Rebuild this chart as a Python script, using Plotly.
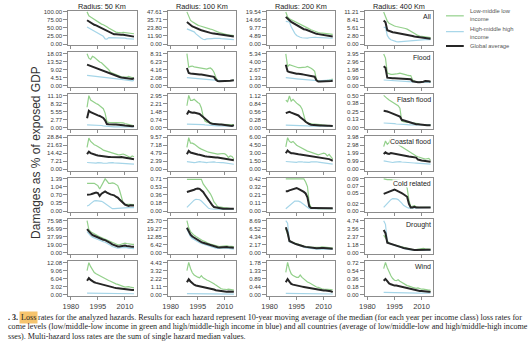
import plotly.graph_objects as go

# ---------------- data ----------------
years = list(range(1989, 2016))
radius_titles = ["Radius: 50 Km", "Radius: 100 Km", "Radius: 200 Km", "Radius: 400 Km"]
hazards = ["All", "Flood", "Flash flood", "Coastal flood", "Cold related", "Drought", "Wind"]
series_names = ["Low-middle low<br>income", "High-middle high<br>income", "Global average"]

# y tick labels (one list per radius)
yticks_all = [["0.00", "25.00", "50.00", "75.00", "100.00"], ["0.00", "11.90", "23.80", "35.71", "47.61"],
              ["0.00", "4.89", "9.77", "14.66", "19.54"], ["0.00", "2.80", "5.61", "8.41", "11.21"]]
yticks_flood = [["0.00", "4.51", "9.02", "13.52", "18.03"], ["0.00", "2.08", "4.16", "6.23", "8.31"],
                ["0.00", "1.33", "2.67", "4.00", "5.34"], ["0.00", "0.99", "1.98", "2.96", "3.95"]]
yticks_flash = [["0.00", "2.77", "5.55", "8.32", "11.10"], ["0.00", "0.74", "1.48", "2.21", "2.95"],
                ["0.00", "0.28", "0.56", "0.84", "1.12"], ["0.00", "0.13", "0.25", "0.38", "0.50"]]
yticks_coastal = [["0.00", "7.21", "14.42", "21.63", "28.84"], ["0.00", "2.39", "4.79", "7.18", "9.57"],
                  ["0.00", "1.50", "3.00", "4.50", "6.00"], ["0.00", "0.99", "1.99", "2.98", "3.98"]]
yticks_cold = [["0.00", "0.35", "0.70", "1.04", "1.39"], ["0.00", "0.18", "0.36", "0.53", "0.71"],
               ["0.00", "0.11", "0.21", "0.32", "0.42"], ["0.00", "0.02", "0.05", "0.07", "0.09"]]
yticks_drought = [["0.00", "19.00", "37.99", "56.99", "75.98"], ["0.00", "6.42", "12.85", "19.27", "25.70"],
                  ["0.00", "2.17", "4.34", "6.52", "8.69"], ["0.00", "1.18", "2.37", "3.56", "4.74"]]
yticks_wind = [["0.00", "3.02", "6.04", "9.06", "12.08"], ["0.00", "1.11", "2.22", "3.32", "4.43"],
               ["0.00", "0.44", "0.89", "1.33", "1.78"], ["0.00", "0.18", "0.36", "0.54", "0.72"]]

# ---- All ----
all_50_low = [100, 88, 84, 80, 76, 72, 68, 65, 62, 60, 58, 54, 50, 47, 43, 39, 37, 36, 35, 35, 36, 35, 34, 34, 33, 33, 32]
all_50_high = [53, 50, 46, 42, 40, 38, 35, 32, 29, 24, 16, 15, 20, 20, 19, 19, 19, 19, 19, 18, 18, 18, 17, 17, 16, 16, 15]
all_50_glob = [74, 70, 66, 63, 60, 58, 55, 52, 50, 48, 45, 41, 38, 34, 32, 30, 30, 29, 29, 29, 29, 28, 27, 26, 25, 24, 23]
all_100_low = [47.6, 42, 35, 33, 31, 29.5, 28, 27, 26, 25, 24, 23, 22.5, 22, 21.5, 20, 19, 18, 17, 16, 15.5, 15, 14, 13.5, 13, 12.8, 12.5]
all_100_high = [22.5, 21.5, 21, 20, 18, 15, 12.5, 10.5, 8.5, 7, 6.5, 7.5, 8, 8, 8, 8.2, 8.5, 8.5, 8.3, 8, 7.8, 7.5, 7.3, 7, 7, 6.8, 6.5]
all_100_glob = [32.5, 30, 27.6, 26, 25, 23.5, 22.5, 21.5, 20.5, 19.5, 18.5, 18, 17, 16.5, 16, 15.5, 15, 14.5, 14, 13.5, 13, 12.5, 12.2, 12, 11.5, 11.2, 11]
all_200_low = [19.5, 16.5, 15.4, 14.8, 14.2, 13.8, 13.4, 12.8, 12.2, 11.5, 10.8, 10.3, 9.8, 9.2, 8.7, 8.2, 7.8, 7.4, 7.0, 6.8, 6.6, 6.4, 6.2, 6.1, 6.0, 5.9, 5.8]
all_200_high = [13.8, 13.6, 13.4, 10.5, 8.2, 6.5, 5.2, 4.5, 4.1, 3.8, 3.6, 3.5, 3.6, 3.8, 4.0, 4.1, 4.1, 4.0, 3.9, 3.8, 3.7, 3.6, 3.6, 3.5, 3.5, 3.5, 3.5]
all_200_glob = [16.5, 15.2, 14.4, 13.5, 12.8, 12, 11.3, 10.8, 10.2, 9.5, 9.0, 8.8, 8.3, 7.8, 7.3, 6.8, 6.5, 6.2, 6.0, 5.8, 5.5, 5.3, 5.1, 4.9, 4.8, 4.6, 4.5]
all_400_low = [11.2, 9.4, 8.0, 7.2, 6.8, 6.5, 6.3, 6.1, 6.0, 5.9, 5.8, 5.6, 5.4, 5.2, 4.8, 4.4, 4.0, 3.6, 3.2, 3.0, 2.8, 2.7, 2.6, 2.5, 2.4, 2.3, 2.2]
all_400_high = [5.8, 5.8, 3.0, 2.0, 1.5, 1.2, 1.0, 0.85, 0.75, 0.8, 0.9, 1.0, 1.1, 1.2, 1.25, 1.3, 1.35, 1.4, 1.45, 1.5, 1.5, 1.5, 1.5, 1.5, 1.5, 1.5, 1.5]
all_400_glob = [8.2, 7.6, 4.8, 4.5, 4.3, 4.1, 4.0, 3.9, 3.8, 3.6, 3.5, 3.4, 3.3, 3.2, 3.0, 2.9, 2.8, 2.6, 2.5, 2.3, 2.2, 2.1, 2.0, 1.95, 1.9, 1.85, 1.8]

# ---- Flood ----
flood_50_low = [18.0, 15.5, 14.8, 16.5, 16.0, 15.0, 14.0, 13.3, 12.9, 12.0, 11.0, 10.0, 9.0, 7.5, 7.0, 6.6, 6.2, 5.8, 5.4, 5.0, 4.8, 4.6, 4.8, 5.2, 5.0, 4.6, 4.2]
flood_50_high = [5.8, 5.7, 5.6, 5.5, 5.4, 5.3, 5.2, 5.1, 5.0, 5.0, 4.9, 4.8, 4.7, 4.6, 4.5, 4.3, 4.1, 3.9, 3.8, 3.6, 3.4, 3.2, 3.0, 2.8, 2.7, 2.8, 3.0]
flood_50_glob = [11.9, 11.5, 11.0, 10.9, 10.4, 9.8, 9.3, 9.0, 8.6, 8.2, 7.8, 7.4, 7.1, 6.6, 6.2, 5.9, 5.6, 5.2, 4.9, 4.6, 4.4, 4.2, 4.0, 3.8, 3.6, 3.8, 4.2]
flood_100_low = [8.3, 4.8, 5.0, 5.1, 4.9, 4.8, 4.7, 4.6, 4.5, 4.4, 4.3, 4.3, 4.5, 4.6, 4.2, 3.5, 2.2, 1.3, 1.2, 1.2, 1.2, 1.2, 1.3, 1.3, 1.3, 1.4, 1.5]
flood_100_high = [2.1, 2.05, 2.0, 2.0, 1.95, 1.9, 1.9, 1.85, 1.8, 1.8, 1.75, 1.7, 1.65, 1.6, 1.5, 1.4, 1.3, 1.25, 1.2, 1.2, 1.25, 1.3, 1.3, 1.35, 1.35, 1.4, 1.4]
flood_100_glob = [4.6, 3.3, 3.2, 3.1, 3.1, 3.0, 3.0, 2.9, 2.9, 2.8, 2.8, 2.7, 2.7, 2.6, 2.5, 2.3, 1.6, 1.2, 1.15, 1.15, 1.15, 1.2, 1.2, 1.25, 1.3, 1.35, 1.4]
flood_200_low = [5.3, 3.2, 3.5, 3.4, 3.2, 3.1, 3.0, 3.0, 3.0, 3.0, 3.0, 3.1, 3.2, 3.1, 2.9, 2.7, 2.4, 1.0, 0.8, 0.8, 0.8, 0.8, 0.85, 0.9, 0.95, 1.0, 1.1]
flood_200_high = [1.36, 1.3, 1.28, 1.25, 1.2, 1.18, 1.15, 1.12, 1.1, 1.05, 1.0, 0.98, 0.95, 0.9, 0.88, 0.85, 0.82, 0.8, 0.8, 0.82, 0.85, 0.88, 0.9, 0.92, 0.95, 0.98, 1.0]
flood_200_glob = [3.5, 2.4, 2.3, 2.2, 2.1, 2.1, 2.0, 2.0, 1.9, 1.9, 1.85, 1.8, 1.8, 1.7, 1.6, 1.55, 1.5, 0.9, 0.7, 0.7, 0.7, 0.75, 0.75, 0.8, 0.8, 0.8, 0.85]
flood_400_low = [3.9, 3.4, 1.55, 1.45, 1.4, 1.4, 1.4, 1.45, 1.5, 1.55, 1.5, 1.4, 1.35, 1.3, 1.25, 1.25, 0.7, 0.55, 0.5, 0.5, 0.5, 0.5, 0.5, 0.5, 0.5, 0.5, 0.5]
flood_400_high = [0.71, 0.69, 0.67, 0.65, 0.63, 0.62, 0.6, 0.59, 0.58, 0.57, 0.56, 0.54, 0.52, 0.5, 0.5, 0.49, 0.48, 0.47, 0.46, 0.45, 0.45, 0.44, 0.44, 0.43, 0.43, 0.42, 0.42]
flood_400_glob = [2.4, 2.2, 1.0, 0.95, 0.93, 0.92, 0.92, 0.9, 0.9, 0.88, 0.87, 0.86, 0.85, 0.84, 0.83, 0.8, 0.55, 0.48, 0.45, 0.43, 0.42, 0.42, 0.5, 0.58, 0.6, 0.55, 0.5]

# ---- Flash flood ----
flash_50_low = [7.0, 11.0, 9.5, 9.0, 8.5, 8.3, 8.0, 7.5, 7.0, 6.5, 5.0, 2.0, 1.8, 1.8, 1.7, 1.7, 1.8, 1.8, 1.8, 1.7, 1.6, 1.4, 1.2, 1.0, 0.8, 0.7, 0.6]
flash_50_high = [0.9, 0.9, 0.9, 0.85, 0.85, 0.8, 0.8, 0.75, 0.7, 0.6, 0.5, 0.4, 0.3, 0.25, 0.2, 0.2, 0.2, 0.2, 0.2, 0.2, 0.2, 0.2, 0.2, 0.2, 0.2, 0.2, 0.2]
flash_50_glob = [3.2, 5.8, 5.3, 5.0, 4.6, 4.5, 4.2, 4.0, 3.6, 3.3, 2.5, 1.2, 1.1, 1.0, 1.0, 1.0, 1.0, 1.0, 0.9, 0.9, 0.8, 0.7, 0.6, 0.5, 0.4, 0.4, 0.5]
flash_100_low = [2.0, 2.95, 2.5, 2.5, 2.6, 2.4, 2.3, 2.2, 1.8, 1.0, 0.6, 0.5, 0.45, 0.4, 0.35, 0.35, 0.32, 0.32, 0.3, 0.3, 0.3, 0.28, 0.28, 0.26, 0.25, 0.25, 0.28]
flash_100_high = [0.32, 0.32, 0.31, 0.3, 0.3, 0.3, 0.29, 0.28, 0.27, 0.26, 0.24, 0.22, 0.2, 0.18, 0.17, 0.16, 0.16, 0.15, 0.15, 0.15, 0.14, 0.14, 0.14, 0.13, 0.13, 0.13, 0.13]
flash_100_glob = [1.2, 1.5, 1.4, 1.35, 1.38, 1.32, 1.3, 1.25, 1.1, 0.95, 0.8, 0.65, 0.5, 0.4, 0.35, 0.32, 0.3, 0.3, 0.28, 0.27, 0.25, 0.22, 0.18, 0.14, 0.12, 0.15, 0.22]
flash_200_low = [0.95, 0.9, 1.1, 0.92, 0.98, 0.9, 0.85, 0.8, 0.75, 0.65, 0.45, 0.2, 0.16, 0.14, 0.13, 0.12, 0.12, 0.12, 0.11, 0.1, 0.09, 0.08, 0.08, 0.07, 0.07, 0.06, 0.06]
flash_200_high = [0.08, 0.08, 0.08, 0.08, 0.08, 0.08, 0.08, 0.07, 0.07, 0.07, 0.06, 0.06, 0.06, 0.05, 0.05, 0.05, 0.05, 0.05, 0.05, 0.05, 0.05, 0.05, 0.05, 0.05, 0.05, 0.05, 0.05]
flash_200_glob = [0.5, 0.53, 0.55, 0.52, 0.5, 0.48, 0.45, 0.42, 0.36, 0.32, 0.26, 0.2, 0.15, 0.12, 0.1, 0.09, 0.08, 0.08, 0.07, 0.07, 0.07, 0.06, 0.06, 0.06, 0.06, 0.05, 0.05]
flash_400_low = [0.5, 0.47, 0.45, 0.43, 0.41, 0.39, 0.38, 0.36, 0.34, 0.3, 0.1, 0.09, 0.08, 0.08, 0.08, 0.07, 0.07, 0.07, 0.07, 0.06, 0.05, 0.05, 0.05, 0.04, 0.04, 0.04, 0.04]
flash_400_high = [0.07, 0.07, 0.065, 0.065, 0.06, 0.06, 0.06, 0.055, 0.055, 0.05, 0.05, 0.05, 0.045, 0.045, 0.04, 0.04, 0.04, 0.04, 0.04, 0.04, 0.04, 0.04, 0.04, 0.04, 0.04, 0.04, 0.04]
flash_400_glob = [0.26, 0.26, 0.25, 0.24, 0.23, 0.22, 0.21, 0.2, 0.19, 0.17, 0.12, 0.11, 0.1, 0.09, 0.08, 0.07, 0.06, 0.05, 0.05, 0.05, 0.045, 0.04, 0.04, 0.04, 0.035, 0.035, 0.035]

# ---- Coastal flood ----
coastal_50_low = [19.7, 28.0, 25.0, 23.0, 22.0, 21.3, 20.5, 19.7, 18.5, 17.2, 16.7, 15.8, 15.2, 14.8, 14.5, 14.3, 13.8, 13.2, 13.0, 13.5, 13.7, 13.0, 12.4, 11.8, 10.6, 12.0, 11.2]
coastal_50_high = [6.1, 5.9, 5.6, 5.3, 5.2, 5.5, 5.9, 6.1, 5.8, 5.4, 5.2, 5.4, 5.8, 6.1, 6.0, 5.8, 5.7, 5.5, 5.5, 5.5, 5.4, 5.3, 5.2, 5.0, 4.9, 4.7, 4.6]
coastal_50_glob = [13.7, 15.8, 14.5, 13.7, 13.2, 12.8, 12.4, 12.1, 11.8, 11.6, 11.4, 11.2, 11.1, 11.0, 10.9, 10.8, 10.7, 10.6, 10.8, 11.1, 11.0, 10.6, 10.2, 9.9, 9.7, 9.4, 9.1]
coastal_100_low = [6.5, 9.4, 7.8, 7.8, 7.5, 7.0, 6.6, 6.3, 6.0, 5.7, 5.5, 5.3, 5.1, 5.0, 4.8, 4.6, 4.5, 4.5, 4.6, 4.7, 4.7, 4.6, 4.2, 3.5, 4.0, 3.8, 3.0]
coastal_100_high = [2.3, 2.2, 2.1, 2.05, 2.0, 2.05, 2.2, 2.3, 2.2, 2.1, 2.0, 2.0, 2.1, 2.2, 2.3, 2.2, 2.1, 2.0, 2.1, 2.0, 2.0, 1.95, 1.9, 1.8, 1.7, 1.6, 1.5]
coastal_100_glob = [4.5, 5.5, 5.0, 4.8, 4.6, 4.5, 4.4, 4.3, 4.1, 4.0, 3.9, 3.8, 3.7, 3.7, 3.6, 3.6, 3.5, 3.5, 3.4, 3.3, 3.2, 3.1, 3.0, 2.9, 2.8, 2.75, 2.7]
coastal_200_low = [4.2, 5.9, 5.2, 5.0, 5.2, 4.8, 4.5, 4.3, 4.1, 3.9, 3.8, 3.6, 3.4, 3.3, 3.2, 3.0, 2.9, 2.8, 2.7, 2.8, 2.9, 3.0, 2.9, 2.5, 2.8, 2.3, 1.9]
coastal_200_high = [1.45, 1.42, 1.38, 1.32, 1.28, 1.26, 1.3, 1.4, 1.45, 1.4, 1.32, 1.28, 1.26, 1.3, 1.38, 1.42, 1.45, 1.4, 1.35, 1.3, 1.28, 1.26, 1.2, 1.15, 1.1, 1.0, 0.95]
coastal_200_glob = [3.0, 3.5, 3.2, 3.0, 3.0, 2.9, 2.85, 2.8, 2.75, 2.7, 2.6, 2.55, 2.5, 2.45, 2.4, 2.35, 2.3, 2.25, 2.2, 2.2, 2.15, 2.1, 2.05, 2.0, 1.9, 1.75, 1.6]
coastal_400_low = [2.8, 3.5, 3.1, 3.3, 3.9, 3.5, 3.35, 3.2, 3.1, 2.95, 2.8, 2.6, 2.45, 2.3, 2.2, 2.05, 1.95, 1.8, 1.65, 1.55, 1.45, 1.35, 1.3, 1.25, 1.3, 1.35, 1.1]
coastal_400_high = [1.05, 1.0, 0.95, 0.9, 0.87, 0.84, 0.88, 0.92, 0.96, 0.94, 0.9, 0.87, 0.84, 0.84, 0.83, 0.82, 0.8, 0.78, 0.76, 0.75, 0.74, 0.72, 0.7, 0.68, 0.66, 0.64, 0.63]
coastal_400_glob = [1.9, 2.1, 1.95, 1.9, 2.0, 1.95, 1.9, 1.85, 1.8, 1.76, 1.72, 1.68, 1.65, 1.6, 1.57, 1.54, 1.5, 1.47, 1.45, 1.2, 1.1, 1.08, 1.05, 1.02, 1.0, 0.95, 0.92]

# ---- Cold related ----
cold_50_low = [1.2, 1.2, 1.2, 1.2, 1.2, 1.15, 1.1, 0.95, 1.1, 1.3, 1.39, 1.3, 1.2, 1.2, 1.22, 1.2, 1.15, 1.1, 0.9, 0.6, 0.35, 0.3, 0.3, 0.3, 0.28, 0.3, 0.28]
cold_50_high = [0.22, 0.25, 0.32, 0.4, 0.44, 0.45, 0.45, 0.44, 0.42, 0.38, 0.32, 0.25, 0.18, 0.12, 0.1, 0.1, 0.11, 0.12, 0.12, 0.13, 0.13, 0.14, 0.14, 0.15, 0.15, 0.15, 0.15]
cold_50_glob = [0.7, 0.7, 0.72, 0.75, 0.78, 0.8, 0.78, 0.65, 0.75, 0.82, 0.85, 0.8, 0.75, 0.72, 0.7, 0.68, 0.62, 0.58, 0.5, 0.42, 0.35, 0.28, 0.25, 0.22, 0.25, 0.25, 0.24]
cold_100_low = [0.7, 0.7, 0.7, 0.7, 0.7, 0.7, 0.7, 0.7, 0.7, 0.6, 0.55, 0.5, 0.45, 0.38, 0.3, 0.2, 0.15, 0.1, 0.09, 0.08, 0.08, 0.07, 0.07, 0.06, 0.06, 0.05, 0.05]
cold_100_high = [0.08, 0.12, 0.17, 0.21, 0.24, 0.26, 0.26, 0.25, 0.22, 0.18, 0.13, 0.09, 0.06, 0.05, 0.04, 0.04, 0.04, 0.04, 0.04, 0.04, 0.04, 0.04, 0.04, 0.04, 0.04, 0.04, 0.04]
cold_100_glob = [0.42, 0.43, 0.44, 0.45, 0.47, 0.49, 0.5, 0.49, 0.46, 0.42, 0.36, 0.3, 0.24, 0.18, 0.13, 0.09, 0.08, 0.07, 0.06, 0.06, 0.05, 0.05, 0.05, 0.05, 0.05, 0.05, 0.05]
cold_200_low = [0.42, 0.42, 0.42, 0.42, 0.42, 0.42, 0.42, 0.42, 0.42, 0.42, 0.42, 0.38, 0.32, 0.1, 0.05, 0.04, 0.04, 0.035, 0.03, 0.03, 0.03, 0.03, 0.03, 0.03, 0.03, 0.03, 0.03]
cold_200_high = [0.03, 0.05, 0.08, 0.1, 0.12, 0.13, 0.13, 0.13, 0.12, 0.1, 0.08, 0.06, 0.04, 0.03, 0.03, 0.03, 0.03, 0.03, 0.03, 0.03, 0.03, 0.03, 0.03, 0.03, 0.03, 0.03, 0.03]
cold_200_glob = [0.26, 0.26, 0.27, 0.28, 0.29, 0.3, 0.3, 0.29, 0.28, 0.26, 0.25, 0.23, 0.18, 0.06, 0.04, 0.04, 0.04, 0.035, 0.035, 0.035, 0.035, 0.035, 0.035, 0.035, 0.035, 0.035, 0.035]
cold_400_low = [0.09, 0.088, 0.088, 0.088, 0.088, 0.088, 0.088, 0.088, 0.088, 0.086, 0.082, 0.078, 0.072, 0.065, 0.03, 0.012, 0.013, 0.015, 0.012, 0.01, 0.01, 0.01, 0.01, 0.01, 0.01, 0.01, 0.01]
cold_400_high = [0.01, 0.015, 0.022, 0.028, 0.032, 0.035, 0.035, 0.034, 0.032, 0.028, 0.022, 0.016, 0.012, 0.01, 0.008, 0.008, 0.008, 0.009, 0.009, 0.01, 0.01, 0.01, 0.01, 0.01, 0.01, 0.01, 0.01]
cold_400_glob = [0.048, 0.05, 0.052, 0.055, 0.057, 0.058, 0.06, 0.058, 0.056, 0.052, 0.05, 0.047, 0.044, 0.04, 0.02, 0.01, 0.01, 0.012, 0.01, 0.01, 0.01, 0.01, 0.01, 0.01, 0.01, 0.01, 0.01]

# ---- Drought ----
drought_50_low = [75.98, 55, 50, 47, 45, 42, 40, 38, 36, 34, 33, 31, 29, 27, 25, 23, 21, 19, 19, 20, 22, 23, 22, 21, 21, 20, 20]
drought_50_high = [50, 44, 40, 37, 35, 33, 31, 29, 27, 26, 25, 23, 21, 18, 15, 13, 12, 11, 11, 12, 13, 13, 12, 11, 11, 10, 10]
drought_50_glob = [56, 50, 46, 42, 40, 38, 36, 34, 32, 31, 30, 28, 26, 23, 20, 18, 16, 15, 15, 16, 17, 17, 16, 16, 15, 14, 14]
drought_100_low = [25.7, 20, 17, 15, 14, 13, 12, 11, 10, 9.5, 9, 8, 7.5, 7, 6.5, 6, 5.5, 5.2, 5, 5.2, 5.5, 5.8, 5.5, 5.3, 5.2, 5, 5]
drought_100_high = [19, 16, 13, 11.5, 10.5, 9.5, 8.5, 8, 7.5, 7, 6.5, 6, 5.5, 5, 4.5, 4, 3.8, 3.6, 3.5, 3.6, 3.8, 3.9, 3.7, 3.5, 3.3, 3.1, 3]
drought_100_glob = [20, 17, 14.5, 13, 12, 11, 10, 9, 8.5, 8, 7.5, 7, 6.5, 6, 5.5, 5, 4.7, 4.5, 4.3, 4.5, 4.7, 4.8, 4.6, 4.4, 4.2, 4.1, 4]
drought_200_low = [6.5, 5.0, 3.4, 3.0, 2.8, 2.6, 2.4, 2.2, 2.0, 1.9, 1.8, 1.7, 1.6, 1.55, 1.5, 1.5, 1.5, 1.45, 1.4, 1.5, 1.6, 1.6, 1.55, 1.5, 1.4, 1.35, 1.3]
drought_200_high = [8.69, 8.0, 3.0, 2.8, 2.6, 2.4, 2.2, 2.0, 1.8, 1.6, 1.5, 1.4, 1.3, 1.2, 1.1, 1.05, 1.0, 1.0, 1.0, 1.05, 1.1, 1.1, 1.05, 1.0, 1.0, 0.95, 0.9]
drought_200_glob = [6.9, 5.5, 3.2, 2.9, 2.7, 2.5, 2.3, 2.1, 1.9, 1.8, 1.7, 1.6, 1.5, 1.4, 1.35, 1.3, 1.3, 1.25, 1.2, 1.25, 1.3, 1.3, 1.3, 1.25, 1.2, 1.15, 1.1]
drought_400_low = [2.6, 2.2, 1.6, 1.4, 1.3, 1.25, 1.2, 1.1, 1.0, 0.95, 0.88, 0.8, 0.72, 0.65, 0.58, 0.52, 0.48, 0.45, 0.48, 0.55, 0.62, 0.65, 0.65, 0.6, 0.55, 0.52, 0.5]
drought_400_high = [4.74, 4.2, 1.6, 1.4, 1.3, 1.2, 1.1, 1.0, 0.9, 0.8, 0.7, 0.6, 0.55, 0.5, 0.45, 0.4, 0.38, 0.36, 0.35, 0.38, 0.4, 0.45, 0.45, 0.43, 0.42, 0.4, 0.4]
drought_400_glob = [3.35, 2.9, 1.5, 1.4, 1.3, 1.2, 1.15, 1.1, 1.0, 0.9, 0.8, 0.72, 0.65, 0.58, 0.52, 0.46, 0.42, 0.4, 0.4, 0.42, 0.45, 0.5, 0.5, 0.48, 0.46, 0.45, 0.45]

# ---- Wind ----
wind_50_low = [9.0, 12.0, 10.5, 9.2, 8.3, 7.8, 7.4, 7.1, 6.8, 6.3, 5.9, 5.6, 5.3, 5.0, 4.6, 4.2, 4.0, 3.8, 3.6, 3.4, 3.1, 2.8, 2.9, 3.0, 2.8, 2.6, 2.5]
wind_50_high = [0.5, 0.5, 0.5, 0.48, 0.46, 0.45, 0.44, 0.43, 0.42, 0.41, 0.4, 0.4, 0.39, 0.38, 0.37, 0.36, 0.35, 0.35, 0.34, 0.33, 0.32, 0.32, 0.31, 0.3, 0.3, 0.3, 0.3]
wind_50_glob = [5.2, 6.2, 5.5, 5.0, 4.6, 4.4, 4.2, 4.0, 3.8, 3.6, 3.4, 3.2, 3.0, 2.9, 2.7, 2.6, 2.5, 2.4, 2.2, 2.1, 2.0, 1.9, 1.9, 1.9, 1.8, 1.75, 1.7]
wind_100_low = [3.3, 4.43, 3.6, 3.0, 2.7, 2.5, 2.4, 2.3, 2.6, 2.3, 2.1, 2.0, 1.9, 1.8, 1.6, 1.5, 1.3, 1.1, 0.9, 0.8, 0.75, 0.7, 0.7, 0.75, 0.7, 0.65, 0.6]
wind_100_high = [0.12, 0.12, 0.11, 0.11, 0.1, 0.1, 0.1, 0.1, 0.09, 0.09, 0.09, 0.08, 0.08, 0.08, 0.08, 0.07, 0.07, 0.07, 0.07, 0.07, 0.06, 0.06, 0.06, 0.06, 0.06, 0.06, 0.06]
wind_100_glob = [1.7, 2.1, 1.8, 1.5, 1.35, 1.25, 1.2, 1.1, 1.1, 1.0, 0.95, 0.9, 0.85, 0.8, 0.75, 0.7, 0.6, 0.55, 0.5, 0.45, 0.42, 0.4, 0.4, 0.42, 0.42, 0.4, 0.38]
wind_200_low = [1.23, 1.78, 1.4, 1.15, 1.05, 1.0, 0.95, 0.95, 1.08, 0.95, 0.85, 0.77, 0.7, 0.65, 0.59, 0.52, 0.46, 0.42, 0.4, 0.35, 0.32, 0.3, 0.3, 0.3, 0.3, 0.28, 0.25]
wind_200_high = [0.06, 0.06, 0.06, 0.055, 0.055, 0.05, 0.05, 0.05, 0.05, 0.05, 0.048, 0.046, 0.045, 0.044, 0.043, 0.042, 0.04, 0.04, 0.04, 0.04, 0.038, 0.036, 0.035, 0.035, 0.035, 0.033, 0.03]
wind_200_glob = [0.68, 0.86, 0.72, 0.59, 0.55, 0.52, 0.5, 0.48, 0.47, 0.44, 0.42, 0.4, 0.38, 0.37, 0.34, 0.31, 0.29, 0.27, 0.26, 0.24, 0.23, 0.22, 0.22, 0.22, 0.22, 0.18, 0.13]
wind_400_low = [0.58, 0.72, 0.6, 0.5, 0.42, 0.36, 0.32, 0.31, 0.33, 0.3, 0.27, 0.24, 0.22, 0.2, 0.19, 0.17, 0.16, 0.15, 0.14, 0.15, 0.13, 0.12, 0.12, 0.11, 0.11, 0.1, 0.1]
wind_400_high = [0.05, 0.05, 0.05, 0.048, 0.046, 0.045, 0.044, 0.043, 0.042, 0.041, 0.04, 0.04, 0.039, 0.038, 0.037, 0.036, 0.035, 0.035, 0.034, 0.033, 0.032, 0.032, 0.031, 0.03, 0.03, 0.03, 0.03]
wind_400_glob = [0.31, 0.35, 0.3, 0.25, 0.23, 0.21, 0.2, 0.2, 0.19, 0.18, 0.17, 0.16, 0.15, 0.14, 0.13, 0.12, 0.11, 0.1, 0.09, 0.09, 0.08, 0.08, 0.08, 0.07, 0.07, 0.065, 0.06]

caption_l1a = "<b>. 3.</b>"
caption_l1b = "Loss"
caption_l1c = "rates for the analyzed hazards. Results for each hazard represent 10-year moving average of the median (for each year per income class) loss rates for"
caption_l2 = "come levels (low/middle-low income in green and high/middle-high income in blue) and all countries (average of low/middle-low and high/middle-high income"
caption_l3 = "sses). Multi-hazard loss rates are the sum of single hazard median values."

# ---------------- assemble ----------------
panel_series = {
    "All": [(all_50_low, all_50_high, all_50_glob), (all_100_low, all_100_high, all_100_glob),
            (all_200_low, all_200_high, all_200_glob), (all_400_low, all_400_high, all_400_glob)],
    "Flood": [(flood_50_low, flood_50_high, flood_50_glob), (flood_100_low, flood_100_high, flood_100_glob),
              (flood_200_low, flood_200_high, flood_200_glob), (flood_400_low, flood_400_high, flood_400_glob)],
    "Flash flood": [(flash_50_low, flash_50_high, flash_50_glob), (flash_100_low, flash_100_high, flash_100_glob),
                    (flash_200_low, flash_200_high, flash_200_glob), (flash_400_low, flash_400_high, flash_400_glob)],
    "Coastal flood": [(coastal_50_low, coastal_50_high, coastal_50_glob), (coastal_100_low, coastal_100_high, coastal_100_glob),
                      (coastal_200_low, coastal_200_high, coastal_200_glob), (coastal_400_low, coastal_400_high, coastal_400_glob)],
    "Cold related": [(cold_50_low, cold_50_high, cold_50_glob), (cold_100_low, cold_100_high, cold_100_glob),
                     (cold_200_low, cold_200_high, cold_200_glob), (cold_400_low, cold_400_high, cold_400_glob)],
    "Drought": [(drought_50_low, drought_50_high, drought_50_glob), (drought_100_low, drought_100_high, drought_100_glob),
                (drought_200_low, drought_200_high, drought_200_glob), (drought_400_low, drought_400_high, drought_400_glob)],
    "Wind": [(wind_50_low, wind_50_high, wind_50_glob), (wind_100_low, wind_100_high, wind_100_glob),
             (wind_200_low, wind_200_high, wind_200_glob), (wind_400_low, wind_400_high, wind_400_glob)],
}
panel_ticks = {"All": yticks_all, "Flood": yticks_flood, "Flash flood": yticks_flash,
               "Coastal flood": yticks_coastal, "Cold related": yticks_cold,
               "Drought": yticks_drought, "Wind": yticks_wind}

W, H = 532, 343
COL_X = [63, 164, 264, 363]
COL_W = 69
ROW_T0 = 10.0
ROW_STEP = 42.25
SPAN = 32.5
PADPX = SPAN * 0.04

GREEN = "#93d08b"
BLUE = "#a5d5e8"
BLACK = "#262626"
AXC = "#8c8c8c"
TXT = "#3a3a3a"
SANS = "Liberation Sans, Arial, sans-serif"
SERIF = "Liberation Serif, Times New Roman, serif"
series_colors = [GREEN, BLUE, BLACK]
series_widths = [1.2, 1.2, 2.0]

fig = go.Figure()
layout = dict(width=W, height=H, margin=dict(l=0, r=0, t=0, b=0),
              paper_bgcolor="white", plot_bgcolor="white",
              font=dict(family=SANS, color=TXT), showlegend=False)
annotations = []
shapes = []

for r, hz in enumerate(hazards):
    for c in range(4):
        n = r * 4 + c + 1
        sfx = "" if n == 1 else str(n)
        top_px = ROW_T0 + r * ROW_STEP - PADPX
        bot_px = ROW_T0 + r * ROW_STEP + SPAN + PADPX
        labels = panel_ticks[hz][c]
        vals = [float(v) for v in labels]
        top = vals[-1]
        layout["xaxis" + sfx] = dict(
            domain=[COL_X[c] / W, (COL_X[c] + COL_W) / W], anchor="y" + sfx,
            range=[1978.6, 2016.4], tickvals=[1980, 1995, 2010], ticks="outside",
            ticklen=3, tickwidth=1, tickcolor=AXC, showline=True, mirror=True,
            linecolor=AXC, linewidth=1, showgrid=False, zeroline=False,
            showticklabels=(r == 6), tickfont=dict(size=7.5, color=TXT, family=SANS))
        layout["yaxis" + sfx] = dict(
            domain=[1 - bot_px / H, 1 - top_px / H], anchor="x" + sfx,
            range=[-0.04 * top, 1.04 * top], tickvals=vals, ticktext=labels,
            ticks="outside", ticklen=4, tickwidth=1, tickcolor=AXC, showline=True,
            mirror=True, linecolor=AXC, linewidth=1, showgrid=False, zeroline=False,
            tickfont=dict(size=6, color=TXT, family=SANS))
        for k, vals_s in enumerate(panel_series[hz][c]):
            fig.add_trace(go.Scatter(x=years, y=vals_s, mode="lines", name=series_names[k].replace("<br>", " "),
                                     line=dict(color=series_colors[k], width=series_widths[k]),
                                     xaxis="x" + sfx, yaxis="y" + sfx, hoverinfo="skip"))
        if r == 0:
            annotations.append(dict(text=radius_titles[c], xref="x" + sfx + " domain", x=0.5,
                                    yref="paper", y=1 - 4.5 / H, xanchor="center", yanchor="middle",
                                    showarrow=False, font=dict(size=7.3, color="#222", family=SANS)))
        if c == 3:
            annotations.append(dict(text=hz, xref="x" + sfx + " domain", x=1, yref="y" + sfx + " domain",
                                    y=1, xanchor="right", yanchor="top", xshift=-1, yshift=-1,
                                    showarrow=False, bgcolor="white", borderpad=0,
                                    font=dict(size=7, color="#222", family=SANS)))

# legend (drawn as key lines + labels at the right)
leg_y = [14, 30, 44.5]
leg_text_y = [13, 31, 44.5]
for k in range(3):
    shapes.append(dict(type="line", xref="paper", yref="paper", x0=445 / W, x1=463 / W,
                       y0=1 - leg_y[k] / H, y1=1 - leg_y[k] / H,
                       line=dict(color=series_colors[k], width=series_widths[k])))
    annotations.append(dict(text=series_names[k], xref="paper", yref="paper", x=467 / W,
                            y=1 - leg_text_y[k] / H, xanchor="left", yanchor="middle", align="left",
                            showarrow=False, font=dict(size=5.8, color="#555", family=SANS)))

# y axis title
annotations.append(dict(text="Damages as % of exposed GDP", xref="paper", yref="paper",
                        x=31 / W, y=1 - 152 / H, textangle=-90, xanchor="center", yanchor="middle",
                        showarrow=False, font=dict(size=12, color="#333", family=SANS)))

# caption
cap_font = dict(size=8.1, color="#1e1e1e", family=SERIF)
annotations.append(dict(text=caption_l1a, xref="paper", yref="paper", x=0, y=1 - 319 / H,
                        xanchor="left", yanchor="middle", showarrow=False, font=cap_font))
annotations.append(dict(text=caption_l1b, xref="paper", yref="paper", x=13.3 / W, y=1 - 319 / H,
                        xanchor="left", yanchor="middle", showarrow=False, font=cap_font,
                        bgcolor="#f6c46d", borderpad=1))
annotations.append(dict(text=caption_l1c, xref="paper", yref="paper", x=30.7 / W, y=1 - 319 / H,
                        xanchor="left", yanchor="middle", showarrow=False, font=cap_font))
annotations.append(dict(text=caption_l2, xref="paper", yref="paper", x=0, y=1 - 328.5 / H,
                        xanchor="left", yanchor="middle", showarrow=False, font=cap_font))
annotations.append(dict(text=caption_l3, xref="paper", yref="paper", x=0, y=1 - 338 / H,
                        xanchor="left", yanchor="middle", showarrow=False, font=cap_font))

layout["annotations"] = annotations
layout["shapes"] = shapes
fig.update_layout(**layout)
fig.write_html("out.html")
